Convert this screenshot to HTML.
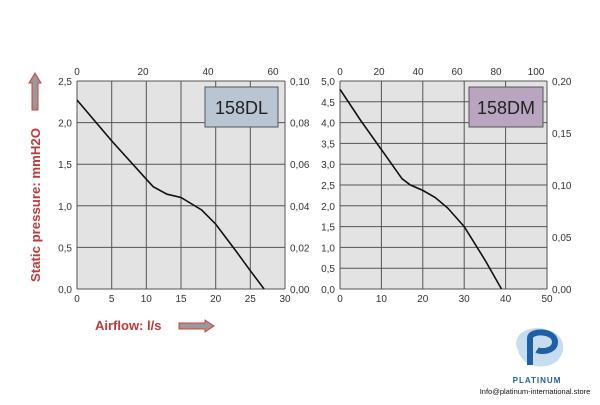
<!DOCTYPE html>
<html><head><meta charset="utf-8"><style>
body{margin:0;background:#fff;width:600px;height:400px;overflow:hidden}
svg text{font-family:"Liberation Sans",sans-serif}
</style></head><body>
<svg width="600" height="400" viewBox="0 0 600 400">
<!-- Left chart -->
<rect x="77" y="81" width="208" height="208" fill="#e3e3e3"/>
<g stroke="#555" stroke-width="1">
<line x1="77" y1="81" x2="285" y2="81"/><line x1="77" y1="122.6" x2="285" y2="122.6"/><line x1="77" y1="164.2" x2="285" y2="164.2"/><line x1="77" y1="205.8" x2="285" y2="205.8"/><line x1="77" y1="247.4" x2="285" y2="247.4"/><line x1="77" y1="289" x2="285" y2="289"/>
<line x1="77" y1="81" x2="77" y2="289"/><line x1="111.7" y1="81" x2="111.7" y2="289"/><line x1="146.3" y1="81" x2="146.3" y2="289"/><line x1="181" y1="81" x2="181" y2="289"/><line x1="215.7" y1="81" x2="215.7" y2="289"/><line x1="250.3" y1="81" x2="250.3" y2="289"/><line x1="285" y1="81" x2="285" y2="289"/>
</g>
<rect x="205" y="87" width="73" height="40" fill="#b9c5d3" stroke="#555"/>
<text x="241.5" y="114" font-size="18" text-anchor="middle" fill="#222">158DL</text>
<polyline fill="none" stroke="#111" stroke-width="1.6" points="77,100 111.7,140.9 146.3,179.2 153.2,186.7 167,194.2 181,197.5 201.7,210 215.7,224.1 236.4,251.6 250.3,270.7 264.1,289"/>
<g font-size="10" fill="#333" text-anchor="end">
<text x="72" y="85">2,5</text><text x="72" y="126.6">2,0</text><text x="72" y="168.2">1,5</text><text x="72" y="209.8">1,0</text><text x="72" y="251.4">0,5</text><text x="72" y="293">0,0</text>
</g>
<g font-size="10" fill="#333">
<text x="290" y="85">0,10</text><text x="290" y="126.6">0,08</text><text x="290" y="168.2">0,06</text><text x="290" y="209.8">0,04</text><text x="290" y="251.4">0,02</text><text x="290" y="293">0,00</text>
</g>
<g font-size="10" fill="#333" text-anchor="middle">
<text x="77" y="302">0</text><text x="111.7" y="302">5</text><text x="146.3" y="302">10</text><text x="181" y="302">15</text><text x="215.7" y="302">20</text><text x="250.3" y="302">25</text><text x="285" y="302">30</text>
<text x="77" y="75">0</text><text x="143" y="75">20</text><text x="208" y="75">40</text><text x="273" y="75">60</text>
</g>
<!-- Right chart -->
<rect x="340" y="81" width="207" height="208" fill="#e3e3e3"/>
<g stroke="#555" stroke-width="1">
<line x1="340" y1="81" x2="547" y2="81"/><line x1="340" y1="101.8" x2="547" y2="101.8"/><line x1="340" y1="122.6" x2="547" y2="122.6"/><line x1="340" y1="143.4" x2="547" y2="143.4"/><line x1="340" y1="164.2" x2="547" y2="164.2"/><line x1="340" y1="185" x2="547" y2="185"/><line x1="340" y1="205.8" x2="547" y2="205.8"/><line x1="340" y1="226.6" x2="547" y2="226.6"/><line x1="340" y1="247.4" x2="547" y2="247.4"/><line x1="340" y1="268.2" x2="547" y2="268.2"/><line x1="340" y1="289" x2="547" y2="289"/>
<line x1="340" y1="81" x2="340" y2="289"/><line x1="381.4" y1="81" x2="381.4" y2="289"/><line x1="422.8" y1="81" x2="422.8" y2="289"/><line x1="464.2" y1="81" x2="464.2" y2="289"/><line x1="505.6" y1="81" x2="505.6" y2="289"/><line x1="547" y1="81" x2="547" y2="289"/>
</g>
<rect x="469" y="87" width="74" height="40" fill="#baa5c1" stroke="#555"/>
<text x="506" y="114" font-size="18" text-anchor="middle" fill="#222">158DM</text>
<polyline fill="none" stroke="#111" stroke-width="1.6" points="340,89.3 360.7,120.5 381.4,149.6 402.1,178.8 410.4,185 422.8,190.4 435.2,197.5 447.6,207.9 464.2,226.6 484.9,259.9 501.5,289"/>
<g font-size="10" fill="#333" text-anchor="end">
<text x="335" y="85">5,0</text><text x="335" y="105.8">4,5</text><text x="335" y="126.6">4,0</text><text x="335" y="147.4">3,5</text><text x="335" y="168.2">3,0</text><text x="335" y="189">2,5</text><text x="335" y="209.8">2,0</text><text x="335" y="230.6">1,5</text><text x="335" y="251.4">1,0</text><text x="335" y="272.2">0,5</text><text x="335" y="293">0,0</text>
</g>
<g font-size="10" fill="#333">
<text x="552" y="85">0,20</text><text x="552" y="137">0,15</text><text x="552" y="189">0,10</text><text x="552" y="241">0,05</text><text x="552" y="293">0,00</text>
</g>
<g font-size="10" fill="#333" text-anchor="middle">
<text x="340" y="302">0</text><text x="381.4" y="302">10</text><text x="422.8" y="302">20</text><text x="464.2" y="302">30</text><text x="505.6" y="302">40</text><text x="547" y="302">50</text>
<text x="340" y="75">0</text><text x="379" y="75">20</text><text x="418" y="75">40</text><text x="457" y="75">60</text><text x="496" y="75">80</text><text x="536" y="75">100</text>
</g>
<!-- axis titles -->
<text transform="translate(40,205) rotate(-90)" font-size="13" font-weight="bold" fill="#c0393b" text-anchor="middle" textLength="154" lengthAdjust="spacingAndGlyphs">Static pressure: mmH2O</text>
<polygon points="35,73 41,83 38,83 38,110 32,110 32,83 29,83" fill="#999" stroke="#d04040" stroke-width="1"/>
<text x="95" y="330" font-size="13" font-weight="bold" fill="#c0393b">Airflow: l/s</text>
<polygon points="179,323 205,323 205,320 214,326 205,332 205,329 179,329" fill="#999" stroke="#d04040" stroke-width="1"/>
<!-- logo -->
<path d="M518,350 C510,335 530,323 548,330 C565,334 568,352 556,362 C545,370 522,368 518,350Z" fill="#c8dcef"/>
<path d="M530,365 L530,338 C530,330 555,330 555,342 C555,352 540,352 537,350" fill="none" stroke="#1f5fa5" stroke-width="6"/>
<text x="537" y="383" font-size="8" font-weight="bold" fill="#1f5fa5" text-anchor="middle" letter-spacing="1">PLATINUM</text>
<text x="535" y="394" font-size="7.5" fill="#111" text-anchor="middle">Info@platinum-international.store</text>
</svg>
</body></html>
